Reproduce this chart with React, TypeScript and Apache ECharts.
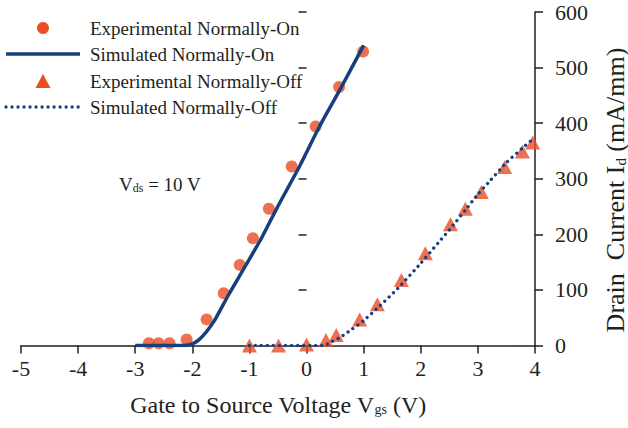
import React, { useEffect, useRef } from "react";
import * as echarts from "echarts";

// ---- data ----
const expOnV = [-2.76, -2.59, -2.4, -2.1, -1.75, -1.45, -1.17, -0.94, -0.66, -0.26, 0.16, 0.57, 0.99];
const expOnI = [4, 4, 4, 11, 47, 94, 145, 193, 246, 322, 394, 465, 529];

const simOnV = [-3, -2.2, -2.1, -2.0, -1.9, -1.8, -1.7, -1.6, -1.35, -1.06, -0.79, -0.53, -0.12, 0.23, 0.61, 1.0];
const simOnI = [0, 0, 0.5, 3, 9, 19, 32, 47, 94, 145, 193, 245, 323, 395, 465, 540];

const expOffV = [-1.0, -0.49, 0.0, 0.34, 0.52, 0.93, 1.24, 1.66, 2.08, 2.52, 2.78, 3.06, 3.47, 3.78, 3.96];
const expOffI = [0, 0, 2, 10, 19, 47, 74, 118, 166, 218, 246, 276, 321, 349, 365];

const simOffV = [-1.0, 0.3, 0.4, 0.58, 0.79, 0.99, 1.29, 1.6, 2.0, 2.3, 2.5, 2.8, 3.0, 3.21, 3.5, 3.79, 3.96];
const simOffI = [0, 0, 4.7, 14, 29, 44, 72, 103, 148, 184, 208, 246, 272, 296, 329, 356, 371];

const legendNames = [
  "Experimental Normally-On",
  "Simulated Normally-On",
  "Experimental Normally-Off",
  "Simulated Normally-Off",
];

const xMin = -5, xMax = 4, xStep = 1;
const yMin = 0, yMax = 600, yStep = 100;

const ORANGE = "#E94E24";
const NAVY = "#173F7D";
const INK = "#231F20";
const FONT = "Liberation Serif";

const zip = (a: number[], b: number[]) => a.map((v, i) => [v, b[i]]);

export default function App() {
  const ref = useRef<HTMLDivElement>(null);
  useEffect(() => {
    if (!ref.current) return;
    const chart = echarts.init(ref.current, undefined, { renderer: "svg" });
    const legendY = [28, 54, 81, 107];
    const textStyleBase = { fontFamily: FONT, fontSize: 19, fill: INK };
    chart.setOption({
      animation: false,
      backgroundColor: "#fff",
      textStyle: { fontFamily: FONT },
      grid: { left: 21, right: 93, top: 12, bottom: 82.5, containLabel: false },
      xAxis: {
        type: "value",
        min: xMin,
        max: xMax,
        interval: xStep,
        splitLine: { show: false },
        axisLine: { show: true, onZero: false, lineStyle: { color: INK, width: 1.5 } },
        axisTick: { show: true, inside: false, length: 8, lineStyle: { color: INK, width: 1.5 } },
        axisLabel: { color: INK, fontFamily: FONT, fontSize: 22, margin: 12 },
        name: "Gate to Source Voltage V{s|gs} (V)",
        nameLocation: "middle",
        nameGap: 47,
        nameTextStyle: {
          color: INK,
          fontFamily: FONT,
          fontSize: 24,
          rich: {
            s: { fontFamily: FONT, fontSize: 14, color: INK, verticalAlign: "bottom", lineHeight: 24 },
          },
        },
      },
      yAxis: [
        {
          type: "value",
          position: "right",
          min: yMin,
          max: yMax,
          interval: yStep,
          splitLine: { show: false },
          axisLine: { show: true, onZero: false, lineStyle: { color: INK, width: 1.5 } },
          axisTick: { show: true, inside: false, length: 8, lineStyle: { color: INK, width: 1.5 } },
          axisLabel: { color: INK, fontFamily: FONT, fontSize: 22, margin: 20 },
        },
        {
          type: "value",
          position: "right",
          min: yMin,
          max: yMax,
          interval: yStep,
          splitLine: { show: false },
          axisLine: { show: false },
          axisTick: { show: true, inside: true, length: 8, lineStyle: { color: INK, width: 1.5 } },
          axisLabel: { show: false },
        },
      ],
      series: [
        {
          name: legendNames[0],
          type: "scatter",
          data: zip(expOnV, expOnI),
          symbol: "circle",
          symbolSize: 12,
          itemStyle: { color: ORANGE },
          clip: false,
          z: 2,
        },
        {
          name: legendNames[2],
          type: "scatter",
          data: zip(expOffV, expOffI),
          symbol: "triangle",
          symbolSize: [15, 14],
          itemStyle: { color: ORANGE },
          clip: false,
          z: 2,
        },
        {
          name: legendNames[1],
          type: "line",
          data: zip(simOnV, simOnI),
          showSymbol: false,
          smooth: 0.2,
          lineStyle: { color: NAVY, width: 3.5 },
          z: 3,
        },
        {
          name: legendNames[3],
          type: "line",
          data: zip(simOffV, simOffI),
          showSymbol: false,
          smooth: 0.2,
          lineStyle: { color: NAVY, width: 3.3, type: [0.01, 6], cap: "round" },
          z: 3,
        },
      ],
      graphic: [
        { type: "circle", shape: { cx: 43, cy: legendY[0], r: 6 }, style: { fill: ORANGE } },
        { type: "line", shape: { x1: 6, y1: legendY[1], x2: 80, y2: legendY[1] }, style: { stroke: NAVY, lineWidth: 3.5 } },
        {
          type: "polygon",
          shape: { points: [[43, legendY[2] - 7], [50.5, legendY[2] + 7], [35.5, legendY[2] + 7]] },
          style: { fill: ORANGE },
        },
        {
          type: "line",
          shape: { x1: 6, y1: legendY[3], x2: 80, y2: legendY[3] },
          style: { stroke: NAVY, lineWidth: 3.3, lineDash: [0.01, 6], lineCap: "round" },
        },
        ...legendNames.map((n, i) => ({
          type: "text",
          x: 90,
          y: legendY[i],
          style: { ...textStyleBase, text: n, textVerticalAlign: "middle", textAlign: "left" },
        })),
        {
          type: "text",
          x: 119,
          y: 184,
          style: {
            text: "V{s|ds} = 10 V",
            fontFamily: FONT,
            fontSize: 19,
            fill: INK,
            textVerticalAlign: "middle",
            rich: { s: { fontFamily: FONT, fontSize: 12, fill: INK, verticalAlign: "bottom", lineHeight: 19 } },
          },
        },
        {
          type: "text",
          x: 615,
          y: 190,
          rotation: Math.PI / 2,
          style: {
            text: "Drain  Current I{s|d} (mA/mm)",
            fontFamily: FONT,
            fontSize: 26,
            fill: INK,
            textAlign: "center",
            textVerticalAlign: "middle",
            rich: { s: { fontFamily: FONT, fontSize: 15, fill: INK, verticalAlign: "bottom", lineHeight: 26 } },
          },
        },
      ],
    });
    return () => chart.dispose();
  }, []);
  return <div ref={ref} style={{ width: 628, height: 428, position: "absolute", left: 0, top: 0 }} />;
}
